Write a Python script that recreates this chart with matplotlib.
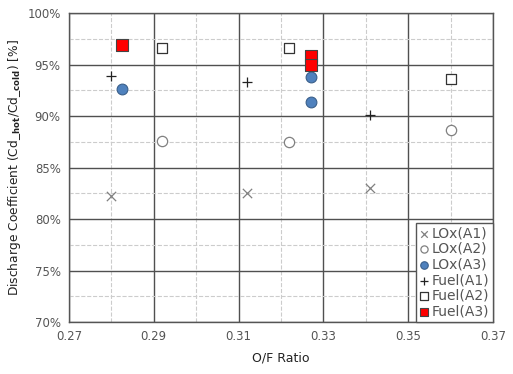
import matplotlib
matplotlib.use("Agg")
import matplotlib.pyplot as plt
from matplotlib.ticker import MultipleLocator, FuncFormatter, FixedLocator

plt.rcParams['font.family'] = ['DejaVu Sans']
plt.rcParams['mathtext.fontset'] = 'dejavusans'

lox_a1_x = [0.280, 0.312, 0.341]
lox_a1_y = [82.2, 82.5, 83.0]
lox_a2_x = [0.292, 0.322, 0.360]
lox_a2_y = [87.6, 87.5, 88.6]
lox_a3_x = [0.2825, 0.327, 0.327]
lox_a3_y = [92.6, 93.8, 91.4]
fuel_a1_x = [0.280, 0.312, 0.341]
fuel_a1_y = [93.9, 93.3, 90.1]
fuel_a2_x = [0.292, 0.322, 0.360]
fuel_a2_y = [96.6, 96.6, 93.6]
fuel_a3_x = [0.2825, 0.327, 0.327]
fuel_a3_y = [96.9, 95.8, 95.0]

fig = plt.figure(figsize=(5.13, 3.74), dpi=100)
ax = fig.add_axes([0.1345, 0.139, 0.8265, 0.826])

ax.set_xlim(0.27, 0.37)
ax.set_ylim(70, 100)
ax.xaxis.set_major_locator(FixedLocator([0.27, 0.29, 0.31, 0.33, 0.35, 0.37]))
ax.xaxis.set_minor_locator(FixedLocator([0.28, 0.30, 0.32, 0.34, 0.36]))
ax.yaxis.set_major_locator(MultipleLocator(5))
ax.yaxis.set_minor_locator(MultipleLocator(2.5))
ax.xaxis.set_major_formatter(FuncFormatter(lambda v, p: f"{v:.2f}"))
ax.yaxis.set_major_formatter(FuncFormatter(lambda v, p: f"{v:.0f}%"))
ax.grid(which='major', color='#505050', linestyle='-', linewidth=1.0, zorder=0)
ax.grid(which='minor', color='#cccccc', linestyle='--', linewidth=0.8, zorder=0)
ax.set_axisbelow(True)
ax.tick_params(which='both', length=0, labelsize=8.5, labelcolor='#555555', pad=6)
for s in ax.spines.values():
    s.set_color('#555555')
    s.set_linewidth(1.0)

ax.scatter(lox_a1_x, lox_a1_y, marker='x', s=45, color='#808080', linewidths=0.9, label='LOx(A1)', zorder=3)
ax.scatter(lox_a2_x, lox_a2_y, marker='o', s=55, facecolor='white', edgecolor='#808080', linewidths=0.9, label='LOx(A2)', zorder=3)
ax.scatter(lox_a3_x, lox_a3_y, marker='o', s=60, facecolor='#4f81bd', edgecolor='#3a5f8a', linewidths=0.8, label='LOx(A3)', zorder=3)
ax.scatter(fuel_a1_x, fuel_a1_y, marker='+', s=60, color='#222222', linewidths=0.9, label='Fuel(A1)', zorder=3)
ax.scatter(fuel_a2_x, fuel_a2_y, marker='s', s=60, facecolor='white', edgecolor='#333333', linewidths=0.9, label='Fuel(A2)', zorder=3)
ax.scatter(fuel_a3_x, fuel_a3_y, marker='s', s=65, facecolor='#ff0000', edgecolor='#444444', linewidths=0.8, label='Fuel(A3)', zorder=3)

leg = ax.legend(loc='lower right', fontsize=10, handlelength=0.6, handletextpad=0.3,
                borderpad=0.25, labelspacing=0.12, markerscale=0.7, fancybox=False,
                framealpha=1, edgecolor='#555555', borderaxespad=0)
for t in leg.get_texts():
    t.set_color('#555555')
leg.get_frame().set_linewidth(1.0)

ax.set_xlabel('O/F Ratio', fontsize=9, color='#222222', labelpad=6)
ax.set_ylabel(r'Discharge Coefficient (Cd_$_{\mathbf{hot}}$/Cd_$_{\mathbf{cold}}$) [%]', fontsize=8.8, color='#222222', labelpad=3)

fig.savefig('out.png', dpi=100)
